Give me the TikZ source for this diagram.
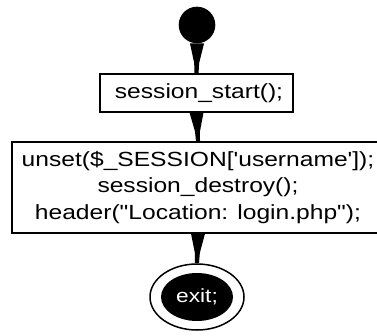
\documentclass[tikz,border=0pt]{standalone}
\usepackage{fontspec}
\newfontfamily\flowfont[FakeStretch=1.2]{Liberation Sans}
\usetikzlibrary{shapes.geometric,calc}
\tikzset{
  codebox/.style={draw=black, line width=1.2pt, fill=white, align=center,
    font=\flowfont\fontsize{20.5}{26.7}\selectfont, inner xsep=8pt, inner ysep=4pt},
  wedge/.style={fill=black, to path={
    ($(\tikztostart)+(-7,0)$) -- ($(\tikztostart)+(7,0)$)
    -- ($(\tikztostart)!0.65!(\tikztotarget)+(2.5,0)$)
    -- ($(\tikztotarget)+(2,0)$) -- ($(\tikztotarget)+(-2,0)$)
    -- ($(\tikztostart)!0.65!(\tikztotarget)+(-2.5,0)$) -- cycle}}
}
\begin{document}
\begin{tikzpicture}[x=1pt, y=-1pt]
  \useasboundingbox (0,0) rectangle (377,336);
  \clip (0,0) rectangle (377,336);

  % initial state
  \node[circle, fill=black, minimum size=36.6pt, inner sep=0pt] (start) at (197,25) {};

  % statements
  \node[codebox, minimum height=38pt, minimum width=193pt] (b1) at (196.5,93) {\hspace*{5pt}session\_start();};
  \node[codebox, minimum height=91pt, minimum width=372pt] (b2) at (198,187.5)
    {unset(\$\_SESSION['username']);\\ session\_destroy();\\ header("Location: login.php");};

  % final state
  \node[ellipse, draw=black, line width=1.5pt, minimum width=94pt, minimum height=66pt, inner sep=0pt] (exit) at (197,297) {};
  \node[ellipse, fill=black, text=white, minimum width=72pt, minimum height=48pt, inner sep=0pt,
    font=\flowfont\fontsize{19}{22}\selectfont] (exitin) at (exit.center) {exit;};

  % flow connectors
  \fill (start.south) to[wedge] (b1.north);
  \fill (b1.south) to[wedge] (b2.north);
  \fill (b2.south) to[wedge] (exit.north);
\end{tikzpicture}
\end{document}
